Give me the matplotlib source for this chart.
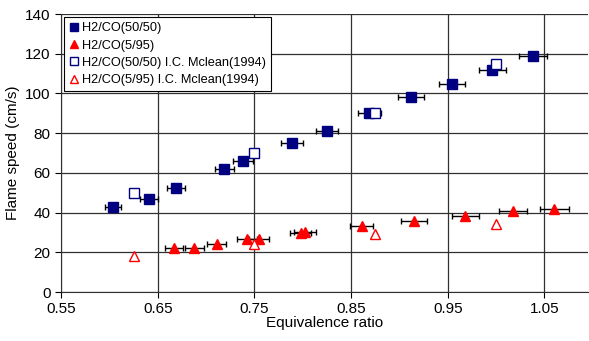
import numpy as np
import matplotlib
matplotlib.use('Agg')
import matplotlib.pyplot as plt

plt.rcParams['font.family'] = ['Liberation Sans', 'DejaVu Sans']

# H2/CO(50/50) measured
phi_50 = [0.604, 0.641, 0.669, 0.719, 0.738, 0.789, 0.825, 0.869, 0.912, 0.954, 0.996, 1.038]
sl_50 = [43, 47, 52.5, 62, 66, 75, 81, 90, 98, 105, 112, 119]
err_50 = [0.0085, 0.009, 0.0095, 0.010, 0.0105, 0.011, 0.0115, 0.012, 0.013, 0.0135, 0.014, 0.0145]

# H2/CO(5/95) measured
phi_5 = [0.667, 0.688, 0.711, 0.742, 0.755, 0.798, 0.802, 0.861, 0.915, 0.968, 1.017, 1.060]
sl_5 = [22, 22, 24, 26.5, 26.5, 29.5, 30, 33, 36, 38.5, 41, 42]
err_5 = [0.0095, 0.0095, 0.010, 0.0105, 0.0105, 0.011, 0.0115, 0.012, 0.013, 0.014, 0.0145, 0.015]

# I.C. Mclean (1994)
phi_ref = [0.625, 0.75, 0.875, 1.0]
sl_ref_50 = [50, 70, 90, 115]
sl_ref_5 = [18, 24, 29, 34]

fig = plt.figure(figsize=(5.89, 3.41), dpi=100)
ax = fig.add_axes([61/589, 49/341, 527/589, 278/341])

ax.errorbar(phi_50, sl_50, xerr=err_50, fmt='none', ecolor='black', elinewidth=1,
            capsize=2.5, capthick=1, zorder=3)
ax.errorbar(phi_5, sl_5, xerr=err_5, fmt='none', ecolor='black', elinewidth=1,
            capsize=2.5, capthick=1, zorder=3)

ax.plot(phi_50, sl_50, 's', color='#000080', ms=7, ls='none', zorder=4,
        label='H2/CO(50/50)')
ax.plot(phi_5, sl_5, '^', color='#ff0000', ms=7.5, ls='none', zorder=4,
        label='H2/CO(5/95)')
ax.plot(phi_ref, sl_ref_50, 's', mfc='white', mec='#000080', mew=1, ms=7, ls='none',
        zorder=4, label='H2/CO(50/50) I.C. Mclean(1994)')
ax.plot(phi_ref, sl_ref_5, '^', mfc='white', mec='#ff0000', mew=1, ms=7.5, ls='none',
        zorder=4, label='H2/CO(5/95) I.C. Mclean(1994)')

ax.set_xlim(0.55, 1.095)
ax.set_ylim(0, 140)
ax.set_xticks(np.arange(0.55, 1.06, 0.1))
ax.set_xticklabels(['0.55', '0.65', '0.75', '0.85', '0.95', '1.05'])
ax.set_yticks(np.arange(0, 141, 20))
ax.grid(True, color='#303030', lw=0.9)
ax.set_axisbelow(True)
ax.spines['top'].set_visible(False)
ax.spines['right'].set_visible(False)
ax.spines['left'].set_color('#303030')
ax.spines['bottom'].set_color('#303030')
ax.tick_params(direction='out', length=4, labelsize=11, colors='black')

ax.set_xlabel('Equivalence ratio', fontsize=11, labelpad=0)
ax.set_ylabel('Flame speed (cm/s)', fontsize=11, labelpad=4)

leg = ax.legend(loc='upper left', bbox_to_anchor=(0.006, 0.989), fontsize=9.2,
                frameon=True, fancybox=False, edgecolor='black', framealpha=1,
                handlelength=0.7, handletextpad=0.3, borderpad=0.4, labelspacing=0.42,
                borderaxespad=0, markerscale=0.8)
leg.get_frame().set_linewidth(0.8)

fig.savefig('out.png', dpi=100)
